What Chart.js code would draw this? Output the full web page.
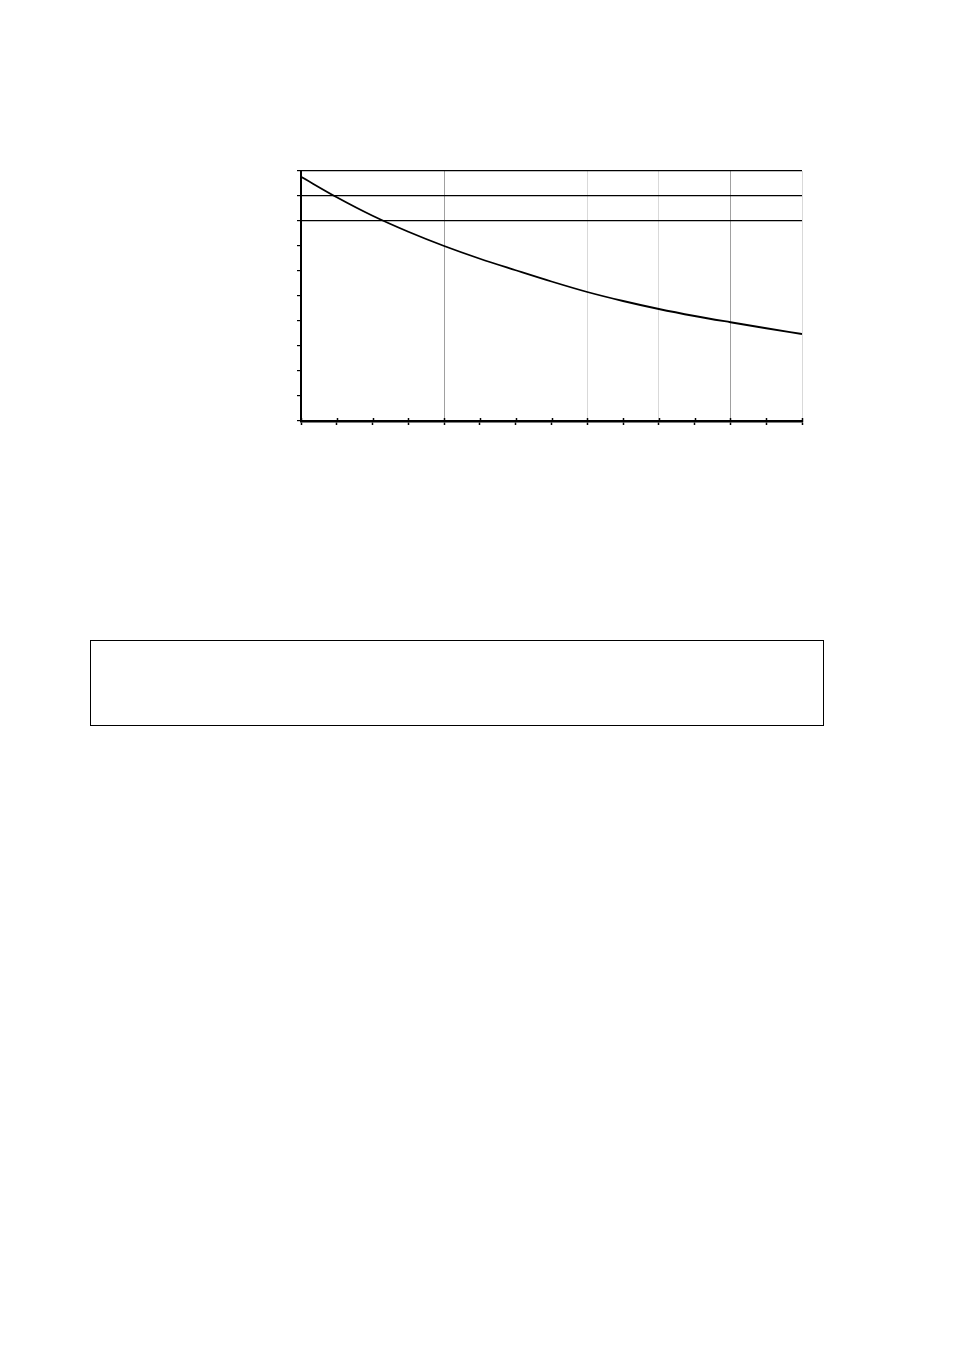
<!DOCTYPE html>
<html>
<head>
<meta charset="utf-8">
<script src="https://cdn.jsdelivr.net/npm/chart.js@4.4.0/dist/chart.umd.min.js"></script>
<style>
  html, body { margin: 0; padding: 0; background: #fff; width: 954px; height: 1350px; overflow: hidden; }
  #wrap { position: absolute; left: 0; top: 0; width: 954px; height: 480px; }
  #box { position: absolute; left: 90px; top: 640px; width: 734px; height: 86px; box-sizing: border-box; border: 1.5px solid #000; }
</style>
</head>
<body>
<div id="wrap"><canvas id="c" width="954" height="480"></canvas></div>
<div id="box"></div>
<script>
// Data
const xSteps = [0, 1, 2, 3, 4, 5, 6, 7, 8, 9, 10, 11, 12, 13, 14];
const curveValues = [97.7, 89.5, 82.1, 75.7, 70.0, 64.9, 60.3, 55.8, 51.6, 48.0, 44.8, 42.0, 39.5, 37.1, 34.8];
const yTickValues = [0, 10, 20, 30, 40, 50, 60, 70, 80, 90, 100];
const blackGridY = [80, 90, 100];
const darkGridX = [4, 12];
const lightGridX = [8, 10, 14];

const points = xSteps.map((x, i) => ({ x: x, y: curveValues[i] }));

const innerTicks = {
  id: 'innerTicks',
  afterDraw(chart) {
    const xs = chart.scales.x;
    const area = chart.chartArea;
    const ctx = chart.ctx;
    ctx.save();
    ctx.strokeStyle = '#000';
    ctx.lineWidth = 1.5;
    xs.ticks.forEach(t => {
      const px = Math.round(xs.getPixelForValue(t.value)) + 0.5;
      ctx.beginPath();
      ctx.moveTo(px, area.bottom - 3);
      ctx.lineTo(px, area.bottom + 1);
      ctx.stroke();
    });
    ctx.restore();
  }
};

new Chart(document.getElementById('c'), {
  type: 'line',
  data: {
    datasets: [{
      data: points,
      borderColor: '#000',
      borderWidth: 1.8,
      pointRadius: 0,
      fill: false,
      cubicInterpolationMode: 'monotone'
    }]
  },
  options: {
    responsive: false,
    animation: false,
    devicePixelRatio: 1,
    layout: { padding: { left: 291, top: 171, right: 152, bottom: 49 } },
    plugins: { legend: { display: false }, tooltip: { enabled: false } },
    scales: {
      x: {
        type: 'linear',
        min: 0, max: 14,
        ticks: { display: false, stepSize: 1 },
        afterFit(s) { s.height = 10; },
        border: { display: true, color: '#000', width: 2.5 },
        grid: {
          drawTicks: true,
          tickLength: 4,
          tickColor: '#000',
          tickWidth: 1.5,
          lineWidth: 1,
          color(ctx) {
            const v = ctx.tick && ctx.tick.value;
            if (darkGridX.includes(v)) return '#a0a0a0';
            if (lightGridX.includes(v)) return '#d9d9d9';
            return 'rgba(0,0,0,0)';
          }
        }
      },
      y: {
        type: 'linear',
        min: 0, max: 100,
        afterBuildTicks(s) { s.ticks = yTickValues.map(v => ({ value: v })); },
        ticks: { display: false },
        afterFit(s) { s.width = 10; },
        border: { display: true, color: '#000', width: 2 },
        grid: {
          drawTicks: true,
          tickLength: 4,
          tickColor: '#000',
          lineWidth: 1.2,
          color(ctx) {
            const v = ctx.tick && ctx.tick.value;
            return blackGridY.includes(v) ? '#000' : 'rgba(0,0,0,0)';
          }
        }
      }
    }
  },
  plugins: [innerTicks]
});
</script>
</body>
</html>
